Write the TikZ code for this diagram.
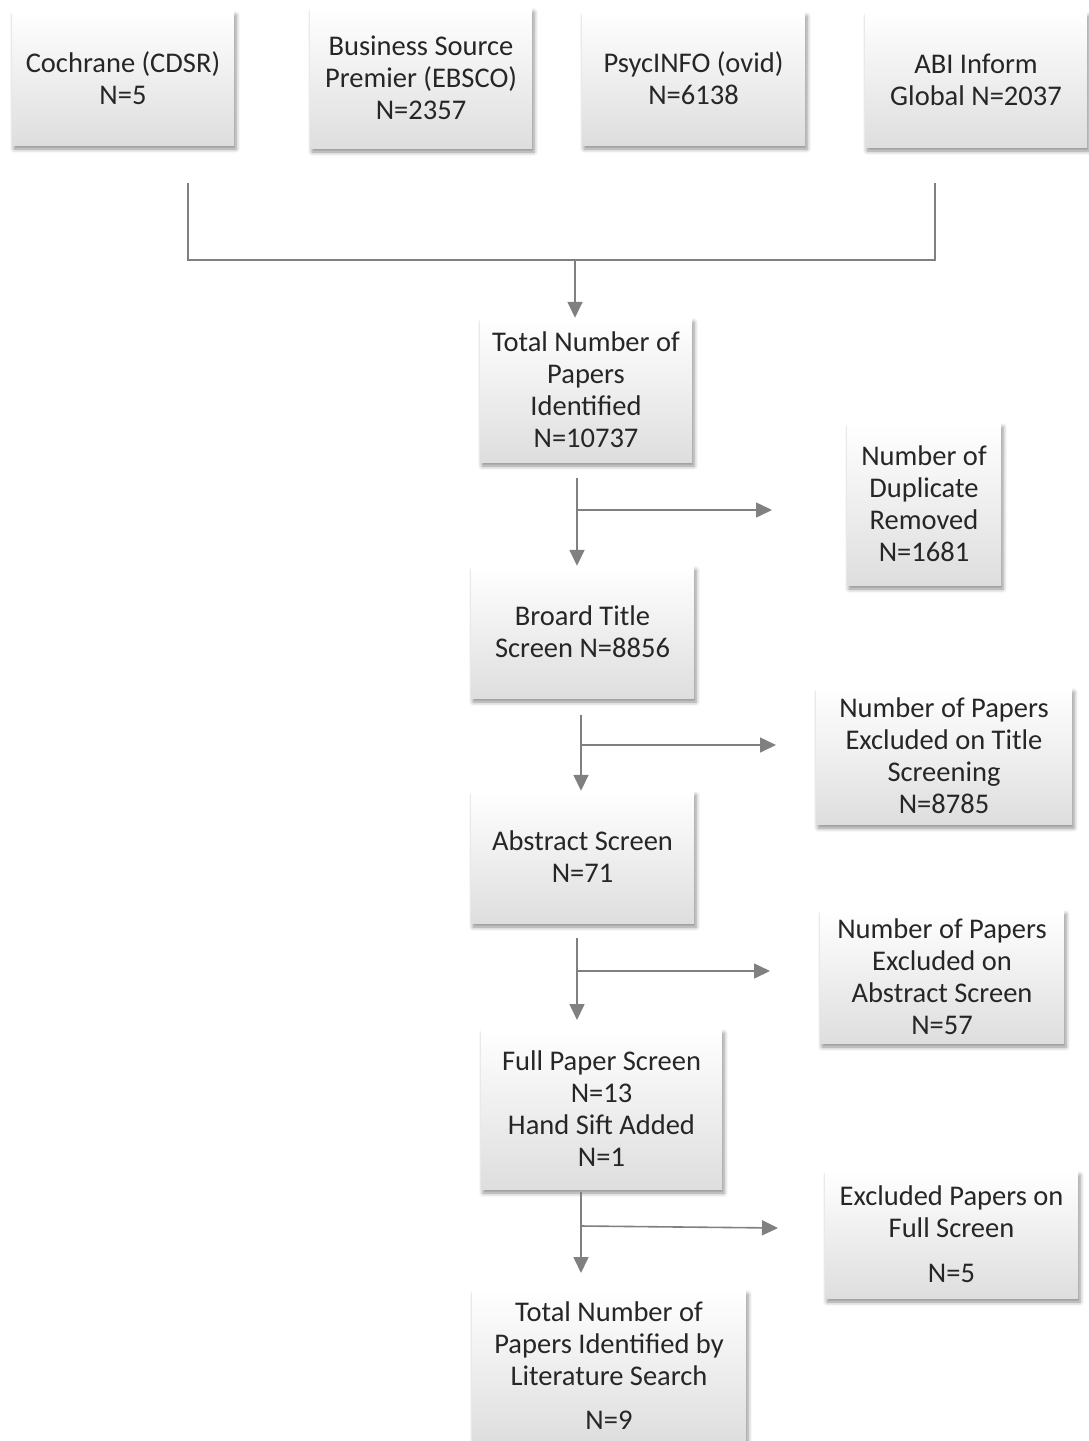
\documentclass[tikz,border=0pt]{standalone}
\usepackage{fontspec}
\setmainfont{Carlito}
\usetikzlibrary{arrows.meta,shadows.blur}
\definecolor{lc}{RGB}{128,128,128}
\tikzset{
  box/.style={rectangle, draw=none, top color=white, middle color=white, bottom color=black!13,
    blur shadow={shadow xshift=2pt, shadow yshift=-4pt, shadow blur radius=4pt, shadow opacity=45},
    align=center, inner sep=0pt, font=\fontsize{28.5}{32}\selectfont, text=black!85},
  conn/.style={draw=lc, line width=1.6pt},
  arr/.style={conn, -{Triangle[length=16pt,width=15pt]}}
}
\begin{document}
\begin{tikzpicture}[x=1pt,y=-1pt]
\useasboundingbox (0,0) rectangle (1089,1441);
% top sources
\node[box, minimum width=222, minimum height=134] (c1) at (123,78) {Cochrane (CDSR)\\N=5};
\node[box, minimum width=222, minimum height=140] (c2) at (421,78) {Business Source\\Premier (EBSCO)\\N=2357};
\node[box, minimum width=223, minimum height=133] (c3) at (693.5,78.5) {PsycINFO (ovid)\\N=6138};
\node[box, minimum width=222, minimum height=135] (c4) at (976,79.5) {ABI Inform\\Global N=2037};
% main flow
\node[box, minimum width=212, minimum height=144] (tot) at (586,390) {Total Number of\\Papers\\Identified\\N=10737};
\node[box, minimum width=154, minimum height=162] (dup) at (924,504) {Number of\\Duplicate\\Removed\\N=1681};
\node[box, minimum width=223, minimum height=132] (bts) at (582.5,632) {Broard Title\\Screen N=8856};
\node[box, minimum width=256, minimum height=136] (ext) at (944,756) {Number of Papers\\Excluded on Title\\Screening\\N=8785};
\node[box, minimum width=223, minimum height=132] (abs) at (582.5,857) {Abstract Screen\\N=71};
\node[box, minimum width=244, minimum height=133] (exa) at (942,976.5) {Number of Papers\\Excluded on\\Abstract Screen\\N=57};
\node[box, minimum width=241, minimum height=160] (fps) at (601.5,1109) {Full Paper Screen\\N=13\\Hand Sift Added\\N=1};
\node[box, minimum width=253, minimum height=127] (exf) at (951.5,1234.5) {Excluded Papers on\\Full Screen\\[13pt]N=5};
\node[box, minimum width=274, minimum height=152] (fin) at (609,1366) {Total Number of\\Papers Identified by\\Literature Search\\[12pt]N=9};
% merge connector
\coordinate (m1) at (188,183);
\coordinate (m4) at (935,183);
\coordinate (mj) at (575,260);
\draw[conn] (m1) |- (mj);
\draw[conn] (m4) |- (mj);
\draw[arr] (mj) -- (mj |- tot.north);
% step arrows
\coordinate (s1) at (577,478);
\coordinate (b1) at (577,510);
\coordinate (e1) at (772,510);
\draw[arr] (s1) -- (s1 |- bts.north);
\draw[arr] (b1) -- (e1);
\coordinate (s2) at (581,715);
\coordinate (b2) at (581,745);
\coordinate (e2) at (776,745);
\draw[arr] (s2) -- (s2 |- abs.north);
\draw[arr] (b2) -- (e2);
\coordinate (s3) at (577,938);
\coordinate (b3) at (577,971);
\coordinate (e3) at (770,971);
\draw[arr] (s3) -- (577,1020);
\draw[arr] (b3) -- (e3);
\coordinate (s4) at (581,1192);
\coordinate (b4) at (581,1226);
\coordinate (e4) at (778,1228);
\draw[arr] (s4) -- (581,1273);
\draw[arr] (b4) -- (e4);
\end{tikzpicture}
\end{document}
